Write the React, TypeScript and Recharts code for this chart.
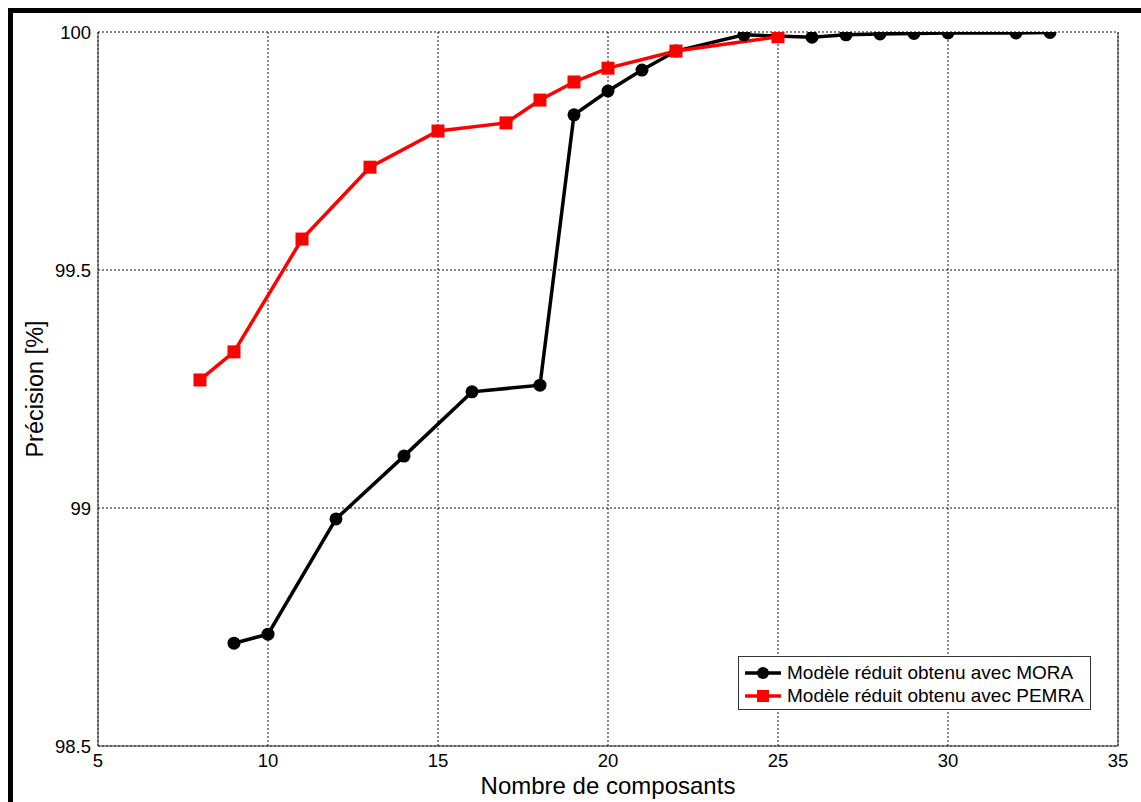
import React from "react";
import {
  LineChart,
  Line,
  XAxis,
  YAxis,
  CartesianGrid,
  Legend,
  ReferenceLine,
} from "recharts";

const xTicks = [5, 10, 15, 20, 25, 30, 35];
const yTicks = [98.5, 99, 99.5, 100];

const moraX = [9, 10, 12, 14, 16, 18, 19, 20, 21, 22, 24, 26, 27, 28, 29, 30, 32, 33];
const moraY = [
  98.716, 98.735, 98.977, 99.109, 99.244, 99.258, 99.826, 99.876, 99.92, 99.96,
  99.994, 99.989, 99.994, 99.996, 99.997, 99.998, 99.998, 99.999,
];

const pemraX = [8, 9, 11, 13, 15, 17, 18, 19, 20, 22, 25];
const pemraY = [99.269, 99.328, 99.565, 99.716, 99.792, 99.809, 99.857, 99.895, 99.924, 99.96, 99.99];

const moraLabel = "Modèle réduit obtenu avec MORA";
const pemraLabel = "Modèle réduit obtenu avec PEMRA";

const FONT = "'Liberation Sans', Arial, Helvetica, sans-serif";

const moraData = moraX.map((x, i) => ({ x, y: moraY[i] }));
const pemraData = pemraX.map((x, i) => ({ x, y: pemraY[i] }));

const SquareDot = (props: any) => {
  const { cx, cy, index } = props;
  if (cx == null || cy == null) return null;
  return <rect key={`sq-${index}`} x={cx - 6.5} y={cy - 6.5} width={13} height={13} fill="#ff0000" />;
};

const renderLegend = () => (
  <div
    style={{
      width: 353,
      height: 54,
      boxSizing: "border-box",
      border: "1px solid #333",
      background: "#fff",
      fontFamily: FONT,
      fontSize: 19,
      color: "#000",
      position: "relative",
    }}
  >
    {[
      { label: moraLabel, color: "#000", square: false },
      { label: pemraLabel, color: "#ff0000", square: true },
    ].map((item, i) => (
      <div
        key={item.label}
        style={{
          position: "absolute",
          left: 6,
          top: i === 0 ? 4 : 27,
          height: 23,
          display: "flex",
          alignItems: "center",
          whiteSpace: "nowrap",
        }}
      >
        <svg width={36} height={16} style={{ marginRight: 6 }}>
          <line x1={0} y1={8} x2={36} y2={8} stroke={item.color} strokeWidth={3.5} />
          {item.square ? (
            <rect x={12} y={2} width={12} height={12} fill={item.color} />
          ) : (
            <circle cx={18} cy={8} r={6} fill={item.color} />
          )}
        </svg>
        <span>{item.label}</span>
      </div>
    ))}
  </div>
);

export default function App() {
  return (
    <div
      style={{
        position: "absolute",
        left: 8,
        top: 8,
        width: 1133,
        height: 794,
        boxSizing: "border-box",
        borderTop: "5px solid #000",
        borderLeft: "5px solid #000",
        background: "#fff",
      }}
    >
      <LineChart
        width={1128}
        height={789}
        margin={{ top: 19, right: 23, left: 0, bottom: 1 }}
        style={{ fontFamily: FONT }}
      >
        <CartesianGrid stroke="#111" strokeDasharray="2 2" strokeWidth={1} />
        <XAxis
          type="number"
          dataKey="x"
          domain={[5, 35]}
          ticks={xTicks}
          allowDataOverflow
          height={55}
          tickLine={false}
          tickSize={6}
          tickMargin={2}
          axisLine={{ stroke: "#333" }}
          tick={{ fill: "#000", fontSize: 18.5, fontFamily: FONT }}
          label={{
            value: "Nombre de composants",
            position: "insideBottom",
            offset: 7,
            style: { fill: "#000", fontSize: 24, fontFamily: FONT },
          }}
        />
        <YAxis
          type="number"
          dataKey="y"
          domain={[98.5, 100]}
          ticks={yTicks}
          allowDataOverflow
          width={85}
          tickLine={false}
          tickSize={5}
          tickMargin={2}
          axisLine={{ stroke: "#333" }}
          tick={{ fill: "#000", fontSize: 18.5, fontFamily: FONT }}
          label={{
            value: "Précision [%]",
            angle: -90,
            position: "insideLeft",
            offset: 22,
            style: { fill: "#000", fontSize: 23.5, fontFamily: FONT, textAnchor: "middle" },
          }}
        />
        <ReferenceLine x={35} stroke="#333" strokeWidth={1} />
        <Line
          data={moraData}
          dataKey="y"
          name={moraLabel}
          stroke="#000"
          strokeWidth={3.5}
          dot={{ r: 6.5, fill: "#000", stroke: "#000", strokeWidth: 0 }}
          activeDot={false}
          isAnimationActive={false}
        />
        <Line
          data={pemraData}
          dataKey="y"
          name={pemraLabel}
          stroke="#ff0000"
          strokeWidth={3.5}
          dot={SquareDot}
          activeDot={false}
          isAnimationActive={false}
        />
        <Legend
          layout="horizontal"
          verticalAlign="middle"
          align="center"
          content={renderLegend}
          wrapperStyle={{ left: 725, top: 643, width: 353, height: 54 }}
        />
      </LineChart>
    </div>
  );
}
